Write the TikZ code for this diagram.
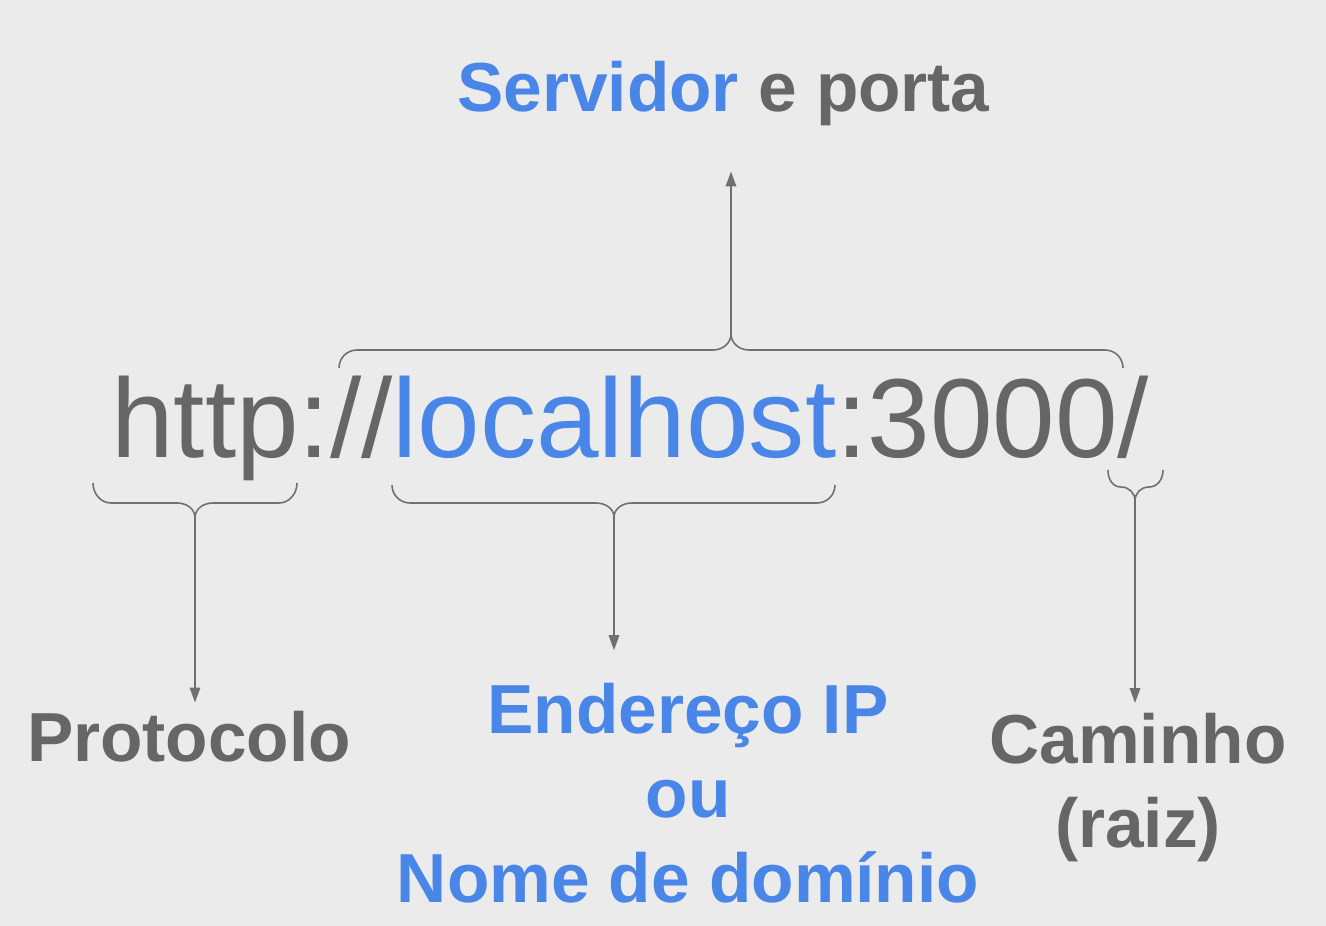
\documentclass[tikz,border=0pt]{standalone}
\usepackage{fontspec}
\setmainfont{Liberation Sans}
\usetikzlibrary{positioning, calc, arrows.meta}
\definecolor{Fundo}{HTML}{EBEBEB}
\definecolor{Cinza}{HTML}{666666}
\definecolor{Azul}{HTML}{4A86E8}
\definecolor{Linha}{HTML}{707070}
\tikzset{
    urlnode/.style={anchor=base west, inner sep=0pt, text=Cinza, font=\fontsize{64}{70}\selectfont},
    labelnode/.style={inner sep=0pt, align=center, text=Cinza, font=\fontsize{39.5}{48}\selectfont\bfseries},
    chave/.style={draw=Linha, line width=0.9pt},
    seta/.style={-{Triangle[length=8.5pt, width=6pt]}, line width=0.9pt, color=Linha},
}
\begin{document}
\begin{tikzpicture}[x=0.02cm, y=-0.02cm]

                % Fundo
                \fill[Fundo] (0,0) rectangle (1326,926);

                % 1. URL
                \node[urlnode] (url) at (111,457) {http://\textcolor{Azul}{localhost}:3000/};

                % 2. Chaves (pontas nomeadas)
                \coordinate (topo) at (731,334);
                \coordinate (ponta1) at (195,518);
                \coordinate (ponta2) at (614,517);
                \coordinate (ponta3) at (1135,501);

                \draw[chave] (339,368) .. controls (339,358) and (347,350) .. (357,350) -- (713,350)
                    .. controls (723,350) and (731,343) .. (topo) .. controls (731,343) and (739,350) .. (749,350)
                    -- (1105,350) .. controls (1115,350) and (1123,358) .. (1123,368);
                \draw[chave] (93,483) .. controls (93,494) and (101,503) .. (111,503) -- (177,503)
                    .. controls (187,503) and (195,509) .. (ponta1) .. controls (195,509) and (203,503) .. (213,503)
                    -- (279,503) .. controls (289,503) and (297,494) .. (297,483);
                \draw[chave] (392,485) .. controls (392,495) and (400,503) .. (410,503) -- (596,503)
                    .. controls (606,503) and (614,509) .. (ponta2) .. controls (614,509) and (622,503) .. (632,503)
                    -- (817,503) .. controls (827,503) and (835,495) .. (835,485);
                \draw[chave] (1108,470) .. controls (1108,480) and (1113,487) .. (1121,487)
                    .. controls (1129,487) and (1135,493) .. (ponta3) .. controls (1135,493) and (1141,487) .. (1149,487)
                    .. controls (1157,487) and (1163,480) .. (1163,470);

                % 3. Rotulos
                \node[labelnode, anchor=base] (servidor) at (723.5,112) {\textcolor{Azul}{Servidor} e porta};
                \node[labelnode, anchor=base] (protocolo) at (189,761) {Protocolo};
                \node[labelnode, anchor=north, text=Azul] (endereco) at (688,683) {Endereço IP\\ou\\Nome de domínio};
                \node[labelnode, anchor=north] (caminho) at (1138,713) {Caminho\\(raiz)};

                % Setas das chaves para os rotulos
                \draw[seta, shorten >=25.5pt] (topo) -- (topo |- servidor.south);
                \draw[seta, shorten >=4.5pt] (ponta1) -- (ponta1 |- protocolo.north);
                \draw[seta, shorten >=18.7pt] (ponta2) -- (ponta2 |- endereco.north);
                \draw[seta, shorten >=5.7pt] (ponta3) -- (ponta3 |- caminho.north);

            \end{tikzpicture}
\end{document}
